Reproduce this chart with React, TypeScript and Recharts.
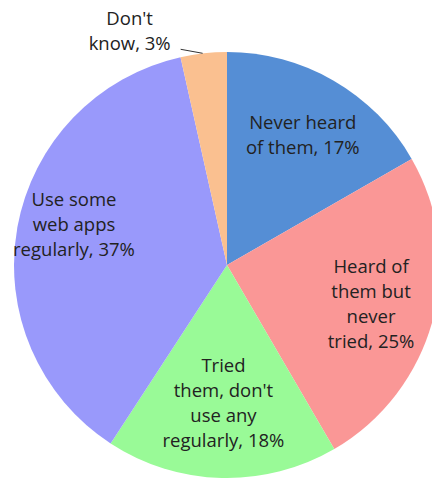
import { Cell, Pie, PieChart } from "recharts";

// survey answers, clockwise from 12 o'clock (shares)
const answers = ["Never heard of them", "Heard of them but never tried", "Tried them, don't use any regularly", "Use some web apps regularly", "Don't know"];
const shares = [16.7, 24.9, 17.6, 37.3, 3.5];
const labelLines = [
  ["Never heard", "of them, 17%"],
  ["Heard of", "them but", "never", "tried, 25%"],
  ["Tried", "them, don't", "use any", "regularly, 18%"],
  ["Use some", "web apps", "regularly, 37%"],
  ["Don't", "know, 3%"],
];
const colors = ["#558ed5", "#fa9796", "#99fa97", "#9999fb", "#fac090"];

const data = answers.map((name, i) => ({ name, value: shares[i], lines: labelLines[i] }));

const RAD = Math.PI / 180;
const LINE_H = 25;
const FONT = "'Open Sans', sans-serif";
const FONT_SIZE = 18.5;
// where each inside label sits: fraction of the radius, plus a small vertical nudge
const labelR = [0.71, 0.7, 0.66, 0.73];
const labelDy = [0, 0, -4, -14];

function renderLabel(props: any) {
  const { cx, cy, midAngle, outerRadius, index } = props;
  const lines: string[] = data[index].lines;
  const cos = Math.cos(-midAngle * RAD);
  const sin = Math.sin(-midAngle * RAD);

  if (index === data.length - 1) {
    // small slice: label outside, with a short leader line
    const ex = cx + outerRadius * cos;
    const ey = cy + outerRadius * sin;
    const tx = ex - 74;
    return (
      <g>
        <path d={`M${ex - 1},${ey} L${ex - 23},${ey - 4}`} stroke="#333" strokeWidth={1} fill="none" />
        {lines.map((l, i) => (
          <text key={i} x={tx} y={ey - 11 + (i - lines.length + 1) * LINE_H} textAnchor="middle" dominantBaseline="central" fill="#222" fontFamily={FONT} fontSize={FONT_SIZE}>
            {l}
          </text>
        ))}
      </g>
    );
  }

  const r = outerRadius * labelR[index];
  const x = cx + r * cos;
  const y = cy + r * sin + labelDy[index];
  const top = y - ((lines.length - 1) * LINE_H) / 2;
  return (
    <g>
      {lines.map((l, i) => (
        <text key={i} x={x} y={top + i * LINE_H} textAnchor="middle" dominantBaseline="central" fill="#222" fontFamily={FONT} fontSize={FONT_SIZE}>
          {l}
        </text>
      ))}
    </g>
  );
}

export default function App() {
  return (
    <div style={{ position: "fixed", left: 0, top: 0, width: 432, height: 479, overflow: "hidden", background: "#fff" }}>
      <PieChart width={460} height={479} margin={{ top: 0, right: 0, bottom: 0, left: 0 }}>
        <Pie
          data={data}
          dataKey="value"
          nameKey="name"
          cx={227}
          cy={265}
          outerRadius={213}
          startAngle={90}
          endAngle={-270}
          stroke="none"
          labelLine={false}
          label={renderLabel}
          isAnimationActive={false}
        >
          {data.map((d, i) => (
            <Cell key={d.name} fill={colors[i]} />
          ))}
        </Pie>
      </PieChart>
    </div>
  );
}
